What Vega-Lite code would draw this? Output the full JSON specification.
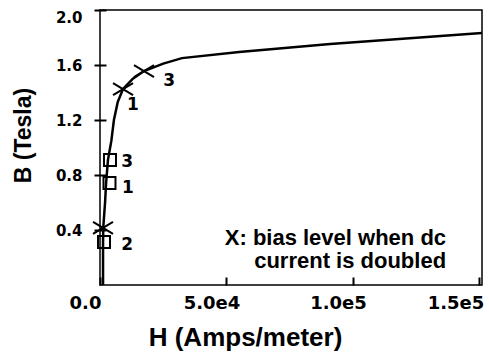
{
  "$schema": "https://vega.github.io/schema/vega-lite/v6.json",
  "autosize": "none",
  "width": 382,
  "height": 275,
  "padding": {"left": 100, "top": 10, "right": 7, "bottom": 71},
  "background": "white",
  "config": {
    "view": {"stroke": "black", "strokeWidth": 1.5},
    "axis": {"grid": false, "domain": false, "labelColor": "black", "titleColor": "black", "tickColor": "black", "zindex": 1}
  },
  "datasets": {
    "curve": [
      {"H": 1200, "B": 0.0},
      {"H": 1200, "B": 0.31},
      {"H": 1300, "B": 0.42},
      {"H": 2000, "B": 0.6},
      {"H": 2400, "B": 0.74},
      {"H": 3150, "B": 0.91},
      {"H": 4500, "B": 1.05},
      {"H": 5500, "B": 1.2},
      {"H": 7000, "B": 1.33},
      {"H": 9100, "B": 1.425},
      {"H": 13000, "B": 1.5},
      {"H": 17400, "B": 1.556},
      {"H": 25000, "B": 1.61},
      {"H": 32400, "B": 1.65},
      {"H": 55000, "B": 1.695},
      {"H": 91000, "B": 1.753},
      {"H": 151000, "B": 1.833}
    ],
    "markers": [
      {"H": 3750, "B": 0.742, "kind": "ac", "case": "1"},
      {"H": 1580, "B": 0.313, "kind": "ac", "case": "2"},
      {"H": 3950, "B": 0.909, "kind": "ac", "case": "3"},
      {"H": 9100, "B": 1.425, "kind": "bias", "case": "1"},
      {"H": 1190, "B": 0.415, "kind": "bias", "case": "2"},
      {"H": 17400, "B": 1.556, "kind": "bias", "case": "3"}
    ],
    "tags": [
      {"H": 11070, "B": 0.705, "text": "1"},
      {"H": 10700, "B": 0.29, "text": "2"},
      {"H": 10700, "B": 0.895, "text": "3"},
      {"H": 13000, "B": 1.31, "text": "1"},
      {"H": 27300, "B": 1.484, "text": "3"}
    ],
    "note": [
      {"H": 136800, "B": 0.34, "text": "X: bias level when dc\ncurrent is doubled"}
    ]
  },
  "encoding": {
    "x": {
      "field": "H", "type": "quantitative",
      "scale": {"domain": [0, 151000], "nice": false, "zero": true},
      "axis": {
        "title": "H (Amps/meter)",
        "values": [0, 50000, 100000, 150000],
        "labelExpr": "datum.value == 0 ? '0.0' : datum.value == 50000 ? '5.0e4' : datum.value == 100000 ? '1.0e5' : '1.5e5'",
        "ticks": true,
        "tickSize": -8,
        "tickWidth": 2,
        "labelFont": "DejaVu Sans",
        "labelFontSize": 18,
        "labelFontWeight": "bold",
        "labelPadding": 17,
        "labelOffset": {"condition": {"test": "datum.value == 150000", "value": -24}, "value": -15},
        "labelFlush": false,
        "labelOverlap": false,
        "titleFont": "Liberation Sans",
        "titleFontSize": 26,
        "titleFontWeight": "bold",
        "titleX": 145,
        "titlePadding": 12
      }
    },
    "y": {
      "field": "B", "type": "quantitative",
      "scale": {"domain": [0, 2], "nice": false},
      "axis": {
        "title": "B (Tesla)",
        "values": [0.4, 0.8, 1.2, 1.6, 2.0],
        "format": ".1f",
        "offset": -6,
        "ticks": true,
        "tickSize": 12,
        "tickWidth": 2,
        "labelFont": "DejaVu Sans",
        "labelFontSize": 15,
        "labelFontWeight": "bold",
        "labelPadding": 12,
        "labelFlush": true,
        "labelOverlap": false,
        "titleFont": "Liberation Sans",
        "titleFontSize": 23,
        "titleFontWeight": "bold",
        "titleY": 125,
        "titlePadding": 20
      }
    }
  },
  "layer": [
    {
      "data": {"name": "curve"},
      "mark": {"type": "line", "color": "black", "strokeWidth": 2.5}
    },
    {
      "data": {"name": "markers"},
      "transform": [{"filter": "datum.kind == 'ac'"}],
      "mark": {"type": "point", "shape": "square", "filled": false, "stroke": "black", "strokeWidth": 2, "size": 144, "opacity": 1}
    },
    {
      "data": {"name": "markers"},
      "transform": [{"filter": "datum.kind == 'bias'"}],
      "mark": {"type": "point", "shape": "M-1,-0.6L1,0.6M-1,0.6L1,-0.6", "filled": false, "stroke": "black", "strokeWidth": 2, "size": 400, "opacity": 1}
    },
    {
      "data": {"name": "tags"},
      "mark": {"type": "text", "font": "DejaVu Sans", "fontSize": 17, "fontWeight": "bold", "align": "center", "baseline": "middle", "color": "black"},
      "encoding": {"text": {"field": "text"}}
    },
    {
      "data": {"name": "note"},
      "transform": [{"calculate": "split(datum.text, '\\n')", "as": "lines"}],
      "mark": {"type": "text", "font": "Liberation Sans", "fontSize": 22, "fontWeight": "bold", "align": "right", "baseline": "middle", "lineHeight": 23, "color": "black"},
      "encoding": {"text": {"field": "lines"}}
    }
  ]
}
